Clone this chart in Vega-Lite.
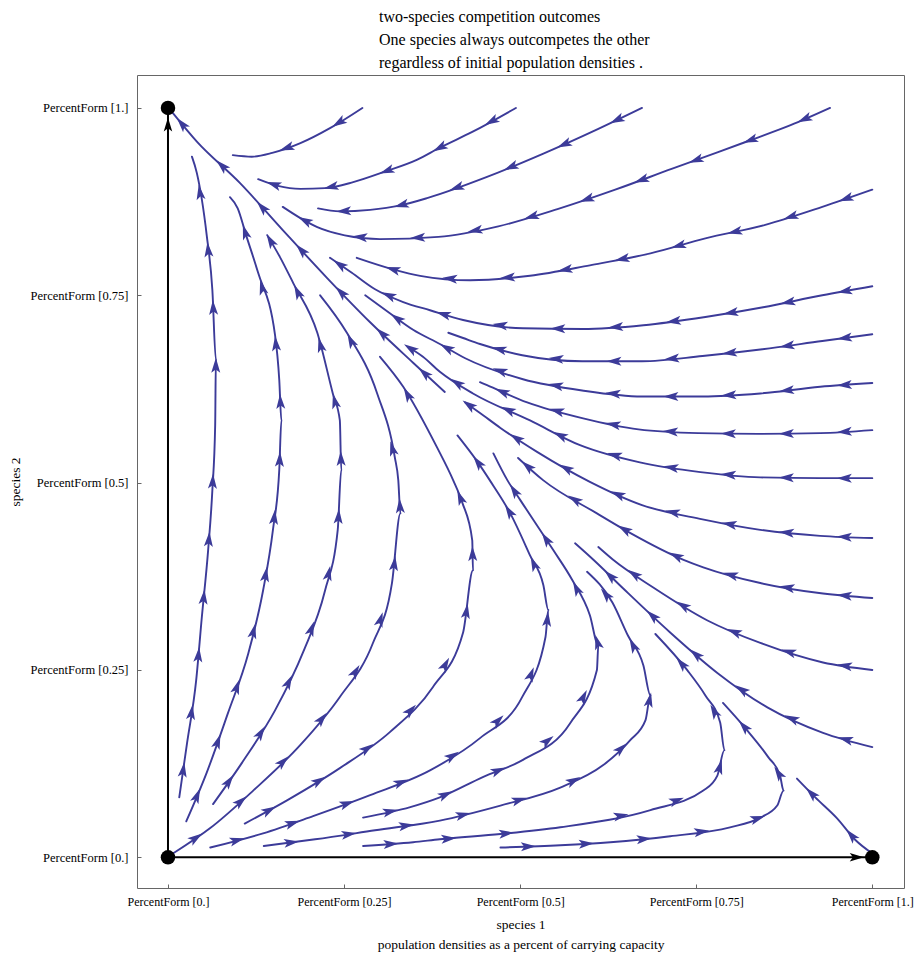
{
  "$schema": "https://vega.github.io/schema/vega-lite/v6.json",
  "width": 767,
  "height": 813,
  "autosize": {"type": "none"},
  "padding": {"left": 137, "top": 75, "right": 10, "bottom": 66},
  "background": "white",
  "config": {"view": {"stroke": "#666666", "strokeWidth": 1}, "font": "Liberation Serif"},
  "title": {
    "text": ["two-species  competition  outcomes", "One species  always  outcompetes  the other", "regardless  of initial population  densities ."],
    "anchor": "start", "frame": "group", "dx": 242, "offset": 4,
    "font": "Liberation Serif", "fontSize": 16, "fontWeight": "normal", "lineHeight": 23, "color": "black"
  },
  "datasets": {
    "streams": [
      {"line":"S1","i":0,"x":0.276,"y":1.000},{"line":"S1","i":1,"x":0.230,"y":0.973},{"line":"S1","i":2,"x":0.188,"y":0.953},{"line":"S1","i":3,"x":0.148,"y":0.940},{"line":"S1","i":4,"x":0.119,"y":0.935},{"line":"S1","i":5,"x":0.092,"y":0.937},
      {"line":"S2","i":0,"x":0.494,"y":1.000},{"line":"S2","i":1,"x":0.432,"y":0.968},{"line":"S2","i":2,"x":0.386,"y":0.947},{"line":"S2","i":3,"x":0.354,"y":0.931},{"line":"S2","i":4,"x":0.308,"y":0.915},{"line":"S2","i":5,"x":0.263,"y":0.901},{"line":"S2","i":6,"x":0.223,"y":0.893},{"line":"S2","i":7,"x":0.188,"y":0.892},{"line":"S2","i":8,"x":0.156,"y":0.896},{"line":"S2","i":9,"x":0.128,"y":0.905},
      {"line":"S3","i":0,"x":0.673,"y":1.000},{"line":"S3","i":1,"x":0.611,"y":0.972},{"line":"S3","i":2,"x":0.533,"y":0.939},{"line":"S3","i":3,"x":0.453,"y":0.908},{"line":"S3","i":4,"x":0.369,"y":0.880},{"line":"S3","i":5,"x":0.330,"y":0.870},{"line":"S3","i":6,"x":0.287,"y":0.864},{"line":"S3","i":7,"x":0.244,"y":0.862},{"line":"S3","i":8,"x":0.213,"y":0.866},
      {"line":"S4","i":0,"x":0.940,"y":1.000},{"line":"S4","i":1,"x":0.884,"y":0.977},{"line":"S4","i":2,"x":0.827,"y":0.957},{"line":"S4","i":3,"x":0.781,"y":0.941},{"line":"S4","i":4,"x":0.716,"y":0.919},{"line":"S4","i":5,"x":0.635,"y":0.891},{"line":"S4","i":6,"x":0.553,"y":0.865},{"line":"S4","i":7,"x":0.469,"y":0.842},{"line":"S4","i":8,"x":0.384,"y":0.828},{"line":"S4","i":9,"x":0.301,"y":0.825},{"line":"S4","i":10,"x":0.251,"y":0.830},{"line":"S4","i":11,"x":0.212,"y":0.841},{"line":"S4","i":12,"x":0.188,"y":0.853},{"line":"S4","i":13,"x":0.163,"y":0.868},
      {"line":"S5","i":0,"x":1.000,"y":0.891},{"line":"S5","i":1,"x":0.929,"y":0.868},{"line":"S5","i":2,"x":0.848,"y":0.844},{"line":"S5","i":3,"x":0.763,"y":0.826},{"line":"S5","i":4,"x":0.685,"y":0.806},{"line":"S5","i":5,"x":0.599,"y":0.790},{"line":"S5","i":6,"x":0.514,"y":0.776},{"line":"S5","i":7,"x":0.429,"y":0.770},{"line":"S5","i":8,"x":0.358,"y":0.776},{"line":"S5","i":9,"x":0.322,"y":0.784},{"line":"S5","i":10,"x":0.268,"y":0.800},
      {"line":"S6","i":0,"x":1.000,"y":0.762},{"line":"S6","i":1,"x":0.929,"y":0.750},{"line":"S6","i":2,"x":0.845,"y":0.734},{"line":"S6","i":3,"x":0.763,"y":0.721},{"line":"S6","i":4,"x":0.675,"y":0.710},{"line":"S6","i":5,"x":0.589,"y":0.705},{"line":"S6","i":6,"x":0.504,"y":0.706},{"line":"S6","i":7,"x":0.419,"y":0.717},{"line":"S6","i":8,"x":0.372,"y":0.730},{"line":"S6","i":9,"x":0.334,"y":0.741},{"line":"S6","i":10,"x":0.294,"y":0.758},{"line":"S6","i":11,"x":0.261,"y":0.780},{"line":"S6","i":12,"x":0.230,"y":0.800},
      {"line":"S7","i":0,"x":1.000,"y":0.698},{"line":"S7","i":1,"x":0.929,"y":0.689},{"line":"S7","i":2,"x":0.844,"y":0.678},{"line":"S7","i":3,"x":0.759,"y":0.669},{"line":"S7","i":4,"x":0.673,"y":0.662},{"line":"S7","i":5,"x":0.588,"y":0.662},{"line":"S7","i":6,"x":0.503,"y":0.670},{"line":"S7","i":7,"x":0.443,"y":0.685},{"line":"S7","i":8,"x":0.419,"y":0.693},{"line":"S7","i":9,"x":0.398,"y":0.700},
      {"line":"S8","i":0,"x":1.000,"y":0.633},{"line":"S8","i":1,"x":0.926,"y":0.628},{"line":"S8","i":2,"x":0.841,"y":0.619},{"line":"S8","i":3,"x":0.759,"y":0.615},{"line":"S8","i":4,"x":0.673,"y":0.615},{"line":"S8","i":5,"x":0.588,"y":0.623},{"line":"S8","i":6,"x":0.504,"y":0.638},{"line":"S8","i":7,"x":0.422,"y":0.666},{"line":"S8","i":8,"x":0.386,"y":0.685},{"line":"S8","i":9,"x":0.348,"y":0.704},{"line":"S8","i":10,"x":0.315,"y":0.726},{"line":"S8","i":11,"x":0.280,"y":0.750},
      {"line":"S9","i":0,"x":1.000,"y":0.570},{"line":"S9","i":1,"x":0.926,"y":0.566},{"line":"S9","i":2,"x":0.838,"y":0.565},{"line":"S9","i":3,"x":0.753,"y":0.566},{"line":"S9","i":4,"x":0.668,"y":0.571},{"line":"S9","i":5,"x":0.588,"y":0.586},{"line":"S9","i":6,"x":0.510,"y":0.607},{"line":"S9","i":7,"x":0.453,"y":0.630},{"line":"S9","i":8,"x":0.443,"y":0.634},
      {"line":"S10","i":0,"x":1.000,"y":0.506},{"line":"S10","i":1,"x":0.926,"y":0.506},{"line":"S10","i":2,"x":0.841,"y":0.507},{"line":"S10","i":3,"x":0.756,"y":0.514},{"line":"S10","i":4,"x":0.670,"y":0.527},{"line":"S10","i":5,"x":0.585,"y":0.550},{"line":"S10","i":6,"x":0.514,"y":0.583},{"line":"S10","i":7,"x":0.433,"y":0.619},{"line":"S10","i":8,"x":0.386,"y":0.648},{"line":"S10","i":9,"x":0.362,"y":0.668},{"line":"S10","i":10,"x":0.341,"y":0.681},
      {"line":"S11","i":0,"x":1.000,"y":0.426},{"line":"S11","i":1,"x":0.926,"y":0.429},{"line":"S11","i":2,"x":0.841,"y":0.437},{"line":"S11","i":3,"x":0.759,"y":0.451},{"line":"S11","i":4,"x":0.673,"y":0.470},{"line":"S11","i":5,"x":0.599,"y":0.501},{"line":"S11","i":6,"x":0.524,"y":0.541},{"line":"S11","i":7,"x":0.472,"y":0.573},{"line":"S11","i":8,"x":0.443,"y":0.593},{"line":"S11","i":9,"x":0.422,"y":0.607},
      {"line":"S12","i":0,"x":1.000,"y":0.346},{"line":"S12","i":1,"x":0.930,"y":0.352},{"line":"S12","i":2,"x":0.841,"y":0.366},{"line":"S12","i":3,"x":0.760,"y":0.387},{"line":"S12","i":4,"x":0.732,"y":0.397},{"line":"S12","i":5,"x":0.656,"y":0.433},{"line":"S12","i":6,"x":0.609,"y":0.459},{"line":"S12","i":7,"x":0.533,"y":0.503},{"line":"S12","i":8,"x":0.497,"y":0.533},
      {"line":"S13","i":0,"x":1.000,"y":0.250},{"line":"S13","i":1,"x":0.930,"y":0.260},{"line":"S13","i":2,"x":0.841,"y":0.286},{"line":"S13","i":3,"x":0.766,"y":0.316},{"line":"S13","i":4,"x":0.689,"y":0.360},{"line":"S13","i":5,"x":0.632,"y":0.397},{"line":"S13","i":6,"x":0.611,"y":0.414},
      {"line":"S14","i":0,"x":1.000,"y":0.147},{"line":"S14","i":1,"x":0.930,"y":0.166},{"line":"S14","i":2,"x":0.851,"y":0.200},{"line":"S14","i":3,"x":0.780,"y":0.246},{"line":"S14","i":4,"x":0.713,"y":0.300},{"line":"S14","i":5,"x":0.646,"y":0.359},{"line":"S14","i":6,"x":0.604,"y":0.397},{"line":"S14","i":7,"x":0.578,"y":0.419},
      {"line":"R0","i":0,"x":1.000,"y":0.005},{"line":"R0","i":1,"x":0.976,"y":0.023},{"line":"R0","i":2,"x":0.950,"y":0.052},{"line":"R0","i":3,"x":0.919,"y":0.080},{"line":"R0","i":4,"x":0.893,"y":0.105},
      {"line":"D0","i":0,"x":0.393,"y":0.621},{"line":"D0","i":1,"x":0.348,"y":0.660},{"line":"D0","i":2,"x":0.287,"y":0.714},{"line":"D0","i":3,"x":0.226,"y":0.773},{"line":"D0","i":4,"x":0.163,"y":0.837},{"line":"D0","i":5,"x":0.102,"y":0.900},{"line":"D0","i":6,"x":0.041,"y":0.955},{"line":"D0","i":7,"x":0.007,"y":0.993},
      {"line":"U1","i":0,"x":0.016,"y":0.080},{"line":"U1","i":1,"x":0.027,"y":0.152},{"line":"U1","i":2,"x":0.040,"y":0.236},{"line":"U1","i":3,"x":0.048,"y":0.320},{"line":"U1","i":4,"x":0.057,"y":0.410},{"line":"U1","i":5,"x":0.063,"y":0.490},{"line":"U1","i":6,"x":0.067,"y":0.577},{"line":"U1","i":7,"x":0.068,"y":0.664},{"line":"U1","i":8,"x":0.063,"y":0.757},{"line":"U1","i":9,"x":0.055,"y":0.830},{"line":"U1","i":10,"x":0.041,"y":0.913},{"line":"U1","i":11,"x":0.034,"y":0.935},
      {"line":"U2","i":0,"x":0.026,"y":0.048},{"line":"U2","i":1,"x":0.055,"y":0.113},{"line":"U2","i":2,"x":0.085,"y":0.192},{"line":"U2","i":3,"x":0.114,"y":0.272},{"line":"U2","i":4,"x":0.135,"y":0.356},{"line":"U2","i":5,"x":0.149,"y":0.437},{"line":"U2","i":6,"x":0.158,"y":0.517},{"line":"U2","i":7,"x":0.161,"y":0.583},{"line":"U2","i":8,"x":0.158,"y":0.637},{"line":"U2","i":9,"x":0.152,"y":0.697},{"line":"U2","i":10,"x":0.128,"y":0.780},{"line":"U2","i":11,"x":0.111,"y":0.830},{"line":"U2","i":12,"x":0.099,"y":0.866},{"line":"U2","i":13,"x":0.088,"y":0.881},
      {"line":"U3","i":0,"x":0.064,"y":0.071},{"line":"U3","i":1,"x":0.105,"y":0.126},{"line":"U3","i":2,"x":0.152,"y":0.196},{"line":"U3","i":3,"x":0.192,"y":0.274},{"line":"U3","i":4,"x":0.223,"y":0.356},{"line":"U3","i":5,"x":0.241,"y":0.437},{"line":"U3","i":6,"x":0.246,"y":0.517},{"line":"U3","i":7,"x":0.244,"y":0.583},{"line":"U3","i":8,"x":0.234,"y":0.619},{"line":"U3","i":9,"x":0.212,"y":0.700},{"line":"U3","i":10,"x":0.178,"y":0.766},{"line":"U3","i":11,"x":0.159,"y":0.801},{"line":"U3","i":12,"x":0.141,"y":0.830},
      {"line":"U4","i":0,"x":0.007,"y":0.005},{"line":"U4","i":1,"x":0.060,"y":0.039},{"line":"U4","i":2,"x":0.121,"y":0.089},{"line":"U4","i":3,"x":0.188,"y":0.150},{"line":"U4","i":4,"x":0.244,"y":0.214},{"line":"U4","i":5,"x":0.291,"y":0.286},{"line":"U4","i":6,"x":0.318,"y":0.366},{"line":"U4","i":7,"x":0.330,"y":0.459},{"line":"U4","i":8,"x":0.327,"y":0.503},{"line":"U4","i":9,"x":0.322,"y":0.534},{"line":"U4","i":10,"x":0.297,"y":0.619},{"line":"U4","i":11,"x":0.254,"y":0.700},{"line":"U4","i":12,"x":0.216,"y":0.750},
      {"line":"U5","i":0,"x":0.109,"y":0.045},{"line":"U5","i":1,"x":0.169,"y":0.076},{"line":"U5","i":2,"x":0.244,"y":0.119},{"line":"U5","i":3,"x":0.315,"y":0.167},{"line":"U5","i":4,"x":0.376,"y":0.227},{"line":"U5","i":5,"x":0.419,"y":0.300},{"line":"U5","i":6,"x":0.433,"y":0.383},{"line":"U5","i":7,"x":0.432,"y":0.423},{"line":"U5","i":8,"x":0.418,"y":0.473},{"line":"U5","i":9,"x":0.405,"y":0.503},{"line":"U5","i":10,"x":0.382,"y":0.547},{"line":"U5","i":11,"x":0.334,"y":0.628},{"line":"U5","i":12,"x":0.301,"y":0.668},
      {"line":"U6","i":0,"x":0.060,"y":0.013},{"line":"U6","i":1,"x":0.135,"y":0.032},{"line":"U6","i":2,"x":0.206,"y":0.055},{"line":"U6","i":3,"x":0.287,"y":0.083},{"line":"U6","i":4,"x":0.372,"y":0.116},{"line":"U6","i":5,"x":0.443,"y":0.159},{"line":"U6","i":6,"x":0.503,"y":0.214},{"line":"U6","i":7,"x":0.536,"y":0.294},{"line":"U6","i":8,"x":0.540,"y":0.330},{"line":"U6","i":9,"x":0.533,"y":0.363},{"line":"U6","i":10,"x":0.514,"y":0.403},{"line":"U6","i":11,"x":0.486,"y":0.459},{"line":"U6","i":12,"x":0.457,"y":0.503},{"line":"U6","i":13,"x":0.440,"y":0.527},{"line":"U6","i":14,"x":0.411,"y":0.563},
      {"line":"U7","i":0,"x":0.136,"y":0.015},{"line":"U7","i":1,"x":0.209,"y":0.024},{"line":"U7","i":2,"x":0.294,"y":0.036},{"line":"U7","i":3,"x":0.386,"y":0.049},{"line":"U7","i":4,"x":0.472,"y":0.069},{"line":"U7","i":5,"x":0.557,"y":0.093},{"line":"U7","i":6,"x":0.618,"y":0.123},{"line":"U7","i":7,"x":0.656,"y":0.156},{"line":"U7","i":8,"x":0.678,"y":0.183},{"line":"U7","i":9,"x":0.685,"y":0.216},{"line":"U7","i":10,"x":0.675,"y":0.256},{"line":"U7","i":11,"x":0.653,"y":0.296},{"line":"U7","i":12,"x":0.631,"y":0.340},{"line":"U7","i":13,"x":0.595,"y":0.381},
      {"line":"U8","i":0,"x":0.277,"y":0.053},{"line":"U8","i":1,"x":0.344,"y":0.067},{"line":"U8","i":2,"x":0.386,"y":0.080},{"line":"U8","i":3,"x":0.447,"y":0.107},{"line":"U8","i":4,"x":0.504,"y":0.130},{"line":"U8","i":5,"x":0.571,"y":0.179},{"line":"U8","i":6,"x":0.609,"y":0.250},{"line":"U8","i":7,"x":0.611,"y":0.283},{"line":"U8","i":8,"x":0.599,"y":0.323},{"line":"U8","i":9,"x":0.574,"y":0.370},{"line":"U8","i":10,"x":0.547,"y":0.410},{"line":"U8","i":11,"x":0.500,"y":0.477},{"line":"U8","i":12,"x":0.482,"y":0.503},{"line":"U8","i":13,"x":0.462,"y":0.539},
      {"line":"U9","i":0,"x":0.277,"y":0.015},{"line":"U9","i":1,"x":0.348,"y":0.020},{"line":"U9","i":2,"x":0.386,"y":0.024},{"line":"U9","i":3,"x":0.472,"y":0.031},{"line":"U9","i":4,"x":0.557,"y":0.040},{"line":"U9","i":5,"x":0.685,"y":0.063},{"line":"U9","i":6,"x":0.760,"y":0.089},{"line":"U9","i":7,"x":0.780,"y":0.109},{"line":"U9","i":8,"x":0.790,"y":0.143},{"line":"U9","i":9,"x":0.784,"y":0.180},{"line":"U9","i":10,"x":0.763,"y":0.216},{"line":"U9","i":11,"x":0.737,"y":0.250},{"line":"U9","i":12,"x":0.692,"y":0.298},
      {"line":"U10","i":0,"x":0.472,"y":0.013},{"line":"U10","i":1,"x":0.557,"y":0.016},{"line":"U10","i":2,"x":0.628,"y":0.020},{"line":"U10","i":3,"x":0.713,"y":0.028},{"line":"U10","i":4,"x":0.798,"y":0.040},{"line":"U10","i":5,"x":0.841,"y":0.053},{"line":"U10","i":6,"x":0.865,"y":0.069},{"line":"U10","i":7,"x":0.874,"y":0.089},{"line":"U10","i":8,"x":0.869,"y":0.109},{"line":"U10","i":9,"x":0.852,"y":0.134},{"line":"U10","i":10,"x":0.820,"y":0.172},{"line":"U10","i":11,"x":0.788,"y":0.206}
    ],
    "separatrices": [
      {"line":"h","i":0,"x":0,"y":0},{"line":"h","i":1,"x":1,"y":0},
      {"line":"v","i":0,"x":0,"y":0},{"line":"v","i":1,"x":0,"y":1}
    ],
    "fixed": [{"x":0,"y":0},{"x":1,"y":0},{"x":0,"y":1}]
  },
  "layer": [
    {
      "data": {"name": "streams"},
      "mark": {"type": "line", "color": "#3c3b99", "strokeWidth": 1.9, "strokeCap": "round", "strokeJoin": "round", "interpolate": "monotone"},
      "encoding": {
        "x": {"field": "x", "type": "quantitative",
              "scale": {"domain": [-0.044, 1.045], "nice": false, "zero": false},
              "axis": {"values": [0, 0.25, 0.5, 0.75, 1], "format": ".2~f",
                       "labelExpr": "'PercentForm [' + (datum.value == 0 ? '0.' : datum.value == 1 ? '1.' : datum.label) + ']'",
                       "title": ["species  1", "population  densities  as a percent  of carrying  capacity"],
                       "grid": false, "domain": false, "tickColor": "#666666", "tickSize": -4, "labelPadding": 12,
                       "labelFont": "Liberation Serif", "labelFontSize": 12, "labelColor": "black",
                       "titleFont": "Liberation Serif", "titleFontSize": 13.5, "titleFontWeight": "normal", "titleColor": "black",
                       "titlePadding": 10, "titleLineHeight": 20}},
        "y": {"field": "y", "type": "quantitative",
              "scale": {"domain": [-0.041, 1.044], "nice": false, "zero": false},
              "axis": {"values": [0, 0.25, 0.5, 0.75, 1], "format": ".2~f",
                       "labelExpr": "'PercentForm [' + (datum.value == 0 ? '0.' : datum.value == 1 ? '1.' : datum.label) + ']'",
                       "title": "species  2",
                       "grid": false, "domain": false, "tickColor": "#666666", "tickSize": -4, "labelPadding": 13,
                       "labelFont": "Liberation Serif", "labelFontSize": 12.5, "labelColor": "black",
                       "titleFont": "Liberation Serif", "titleFontSize": 13.5, "titleFontWeight": "normal", "titleColor": "black",
                       "titlePadding": 8}},
        "detail": {"field": "line"},
        "order": {"field": "i"}
      }
    },
    {
      "data": {"name": "streams"},
      "transform": [
        {"window": [{"op": "lead", "field": "x", "as": "nx"}, {"op": "lead", "field": "y", "as": "ny"}], "groupby": ["line"], "sort": [{"field": "i"}]},
        {"filter": "datum.nx != null"},
        {"calculate": "(datum.nx - datum.x) * 704.3", "as": "dxs"},
        {"calculate": "(datum.y - datum.ny) * 749.3", "as": "dys"},
        {"calculate": "sqrt(datum.dxs * datum.dxs + datum.dys * datum.dys)", "as": "len"},
        {"window": [{"op": "sum", "field": "len", "as": "cumEnd"}], "groupby": ["line"], "sort": [{"field": "i"}], "frame": [null, 0]},
        {"calculate": "datum.cumEnd - datum.len", "as": "cumStart"},
        {"calculate": "floor((datum.cumEnd + 30) / 58)", "as": "k"},
        {"filter": "datum.k > floor((datum.cumStart + 30) / 58)"},
        {"calculate": "(datum.k * 58 - 30 - datum.cumStart) / datum.len", "as": "t"},
        {"calculate": "datum.x + datum.t * (datum.nx - datum.x)", "as": "ax"},
        {"calculate": "datum.y + datum.t * (datum.ny - datum.y)", "as": "ay"},
        {"calculate": "atan2(datum.dys, datum.dxs) * 180 / PI", "as": "ang"}
      ],
      "mark": {"type": "point", "shape": "M1,0L-1,-0.6L-0.55,0L-1,0.6Z", "filled": true, "color": "#3c3b99", "size": 225, "opacity": 1, "strokeWidth": 0},
      "encoding": {
        "x": {"field": "ax", "type": "quantitative"},
        "y": {"field": "ay", "type": "quantitative"},
        "angle": {"field": "ang", "type": "quantitative", "scale": null}
      }
    },
    {
      "data": {"name": "separatrices"},
      "mark": {"type": "line", "color": "black", "strokeWidth": 2},
      "encoding": {
        "x": {"field": "x", "type": "quantitative"},
        "y": {"field": "y", "type": "quantitative"},
        "detail": {"field": "line"},
        "order": {"field": "i"}
      }
    },
    {
      "data": {"name": "separatrices"},
      "transform": [
        {"window": [{"op": "lead", "field": "x", "as": "nx"}, {"op": "lead", "field": "y", "as": "ny"}], "groupby": ["line"], "sort": [{"field": "i"}]},
        {"filter": "datum.nx != null"},
        {"calculate": "datum.x + 0.978 * (datum.nx - datum.x)", "as": "ax"},
        {"calculate": "datum.y + 0.978 * (datum.ny - datum.y)", "as": "ay"},
        {"calculate": "atan2((datum.y - datum.ny) * 749.3, (datum.nx - datum.x) * 704.3) * 180 / PI", "as": "ang"}
      ],
      "mark": {"type": "point", "shape": "M1,0L-1,-0.6L-0.55,0L-1,0.6Z", "filled": true, "color": "black", "size": 200, "opacity": 1, "strokeWidth": 0},
      "encoding": {
        "x": {"field": "ax", "type": "quantitative"},
        "y": {"field": "ay", "type": "quantitative"},
        "angle": {"field": "ang", "type": "quantitative", "scale": null}
      }
    },
    {
      "data": {"name": "fixed"},
      "mark": {"type": "circle", "color": "black", "size": 210, "opacity": 1},
      "encoding": {
        "x": {"field": "x", "type": "quantitative"},
        "y": {"field": "y", "type": "quantitative"}
      }
    }
  ]
}
